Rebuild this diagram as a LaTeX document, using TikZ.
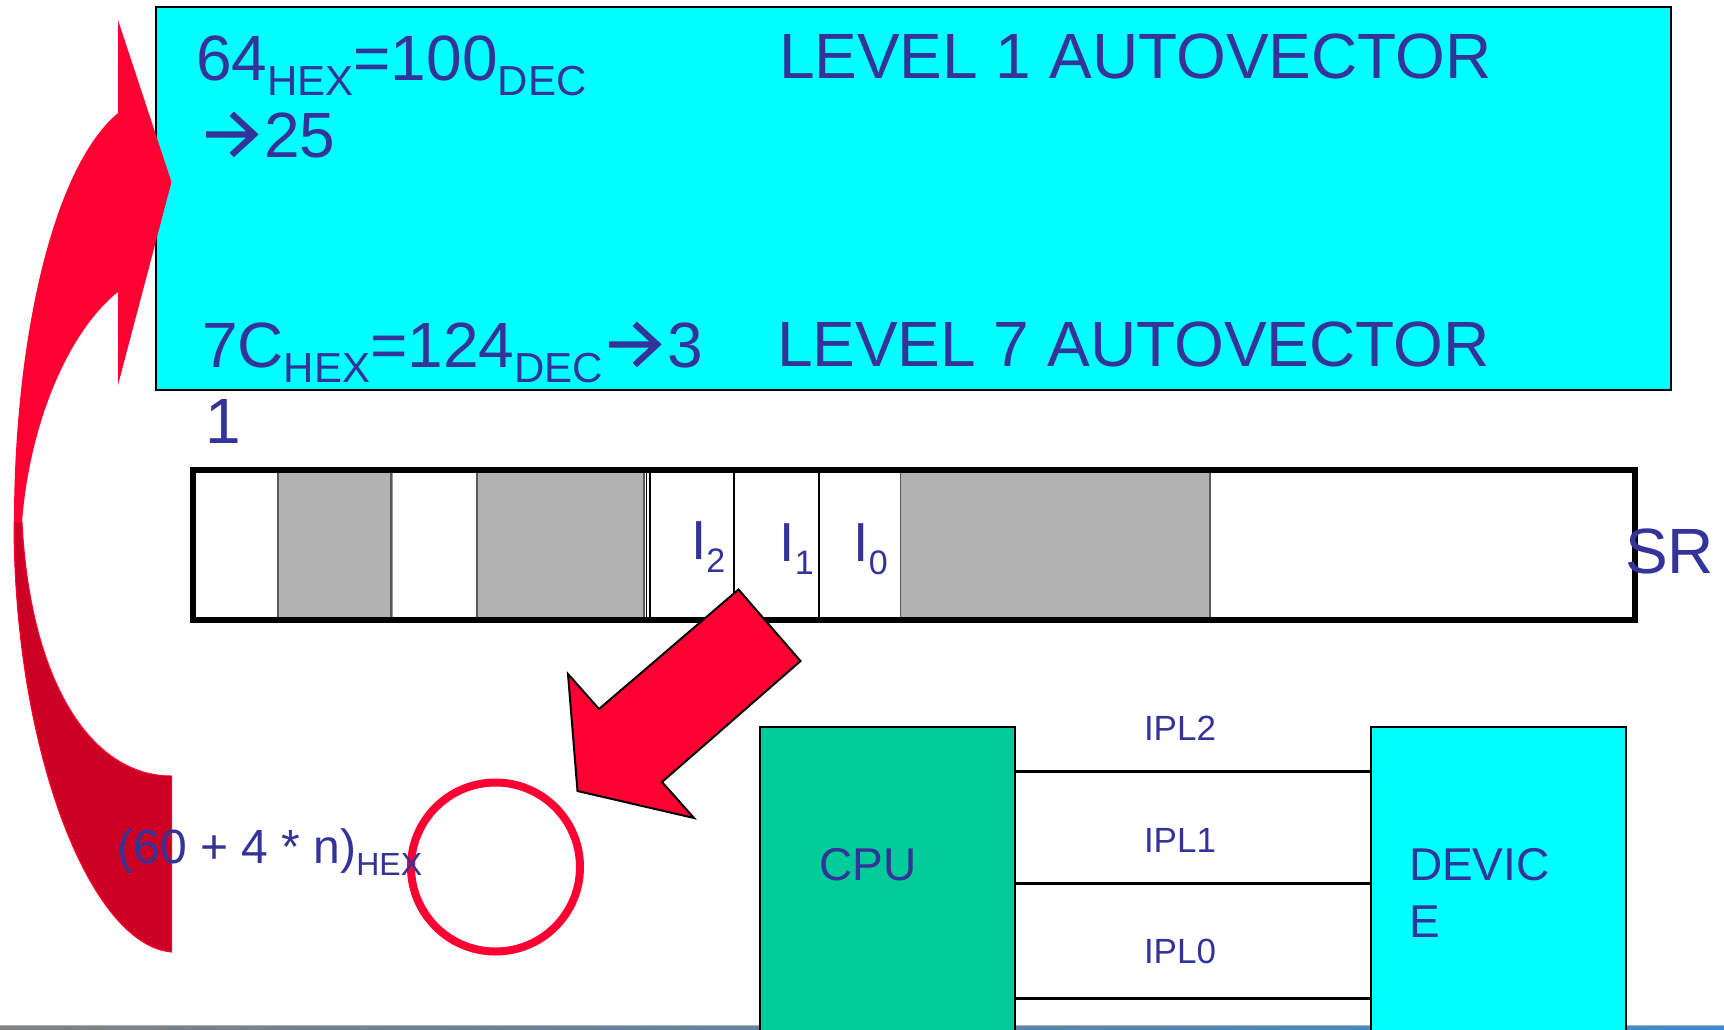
\documentclass[tikz,border=0pt]{standalone}
\usepackage{fontspec}
\setmainfont{Liberation Sans}
\definecolor{txtblue}{HTML}{333399}
\definecolor{cyanbox}{HTML}{00FFFF}
\definecolor{cpugreen}{HTML}{00CC99}
\definecolor{redA}{HTML}{FF0033}
\definecolor{redB}{HTML}{CC0022}
\definecolor{cellgray}{HTML}{B2B2B2}
\definecolor{footgray}{HTML}{808080}
\definecolor{footblue}{HTML}{3C8CD0}
\newcommand{\hsub}[1]{\raisebox{-7.5pt}{\fontsize{21}{21}\selectfont #1}}
\newcommand{\isub}[1]{\raisebox{-6.5pt}{\fontsize{17}{17}\selectfont #1}}
\newcommand{\fsub}[1]{\raisebox{-6pt}{\fontsize{16}{16}\selectfont #1}}
\newcommand{\harr}{\hspace{1.5pt}\tikz[baseline=0pt, x=1pt, y=1pt]
  \draw[txtblue, line width=3.1pt, line cap=butt, line join=miter]
  (0,11.3) -- (23,11.3) (12.8,21.6) -- (24,11.3) -- (12.8,1);\hspace{3.5pt}}
\tikzset{
  txt/.style={text=txtblue, inner sep=0pt, outer sep=0pt, anchor=base west},
  big/.style={font=\fontsize{32}{38}\selectfont},
  mid/.style={font=\fontsize{23}{28}\selectfont},
  small/.style={font=\fontsize{17.5}{21}\selectfont},
  box/.style={draw=black, line width=1pt, inner sep=0pt, outer sep=0pt},
  wire/.style={draw=black, line width=1.5pt},
  cell/.style={fill=cellgray, draw=black!65, line width=0.6pt},
}
\begin{document}
\begin{tikzpicture}[x=0.5pt,y=-0.5pt]
\useasboundingbox (0,0) rectangle (1724,1029);
\clip (0,0) rectangle (1724,1029);
\fill[white] (0,0) rectangle (1724,1029);

% footer line
\fill[black!30] (0,1024.5) rectangle (1724,1026);
\shade[left color=footgray, right color=footblue] (0,1026) rectangle (1724,1030);

% vector table box
\node[box, fill=cyanbox, minimum width=757.5pt, minimum height=191.75pt] (vec) at (913.5,198.25) {};
\node[txt,big] (l1a) at (196,80) {64\hsub{HEX}=100\hsub{DEC}};
\node[txt,big] (l1b) at (200,157) {\harr 25};
\node[txt,big] (l1c) at (779,78) {LEVEL 1 AUTOVECTOR};
\node[txt,big] (l7a) at (202,367) {7C\hsub{HEX}=124\hsub{DEC}\harr 3};
\node[txt,big] (l7b) at (205,443) {1};
\node[txt,big] (l7c) at (777,366) {LEVEL 7 AUTOVECTOR};

% status register
\fill[white] (193,470) rectangle (1635,620);
\draw[black!40, line width=0.5pt] (277,470) -- (277,620) (392,470) -- (392,620) (476,470) -- (476,620);
\filldraw[cell] (278,472) rectangle (391,618);
\filldraw[cell] (477,472) rectangle (644,618);
\filldraw[cell] (900.7,472) rectangle (1210,618);
\draw[line width=0.5pt] (646,470) -- (646,620);
\draw[line width=1pt] (649.5,470) -- (649.5,620);
\draw[line width=1.3pt] (734,470) -- (734,620);
\draw[line width=1.3pt] (819,470) -- (819,620);
\node[draw=black, line width=3pt, inner sep=0pt, minimum width=721pt, minimum height=75pt] (sr) at (914,545) {};
\node[txt,big] (srl) at (1625,573) {SR};
\node[txt, font=\fontsize{27.5}{30}\selectfont] (i2) at (691,559) {I\isub{2}};
\node[txt, font=\fontsize{27.5}{30}\selectfont] (i1) at (779.5,561.5) {I\isub{1}};
\node[txt, font=\fontsize{27.5}{30}\selectfont] (i0) at (853.5,561.5) {I\isub{0}};

% curved red arrow (dark back part)
\filldraw[fill=redB, draw=redA, line width=0.5pt]
  (14,522) .. controls (14,750) and (90,945) .. (171.5,952)
  -- (171.5,776) .. controls (90,776) and (30,680) .. (22,522) -- cycle;
% curved red arrow (front part with head)
\fill[redA]
  (118,20) -- (171.5,182) -- (118,385) -- (118,292)
  .. controls (70,330) and (30,420) .. (22,522)
  -- (14,522) .. controls (14,350) and (50,170) .. (118,113) -- cycle;

% big diagonal arrow
\filldraw[fill=redA, draw=black, line width=1pt, line join=miter]
  (738.5,589.5) -- (800.5,661) -- (662,782) -- (694,818) -- (577.5,791)
  -- (568,674) -- (599,709) -- cycle;

% circle
\node[circle, draw=redA, line width=4pt, minimum size=84.5pt, inner sep=0pt] (ring) at (495.5,867) {};

\node[txt, font=\fontsize{24}{28}\selectfont] (formula) at (117.5,863) {(60 + 4 * n)\fsub{HEX}};

% CPU and device
\node[box, fill=cpugreen, minimum width=127.5pt, minimum height=159pt] (cpu) at (887.5,886) {};
\node[box, fill=cyanbox, minimum width=127.5pt, minimum height=159pt] (dev) at (1498.5,886) {};
\node[txt,mid] (cpul) at (819.5,880) {CPU};
\node[txt,mid] (devl1) at (1409,880) {DEVIC};
\node[txt,mid] (devl2) at (1409,937) {E};

\coordinate (w2) at (0,771);
\coordinate (w1) at (0,883);
\coordinate (w0) at (0,998);
\draw[wire] (cpu.east |- w2) -- (dev.west |- w2);
\draw[wire] (cpu.east |- w1) -- (dev.west |- w1);
\draw[wire] (cpu.east |- w0) -- (dev.west |- w0);
\node[txt,small] (ipl2) at (1144,740) {IPL2};
\node[txt,small] (ipl1) at (1144,852) {IPL1};
\node[txt,small] (ipl0) at (1144,963) {IPL0};
\end{tikzpicture}
\end{document}
